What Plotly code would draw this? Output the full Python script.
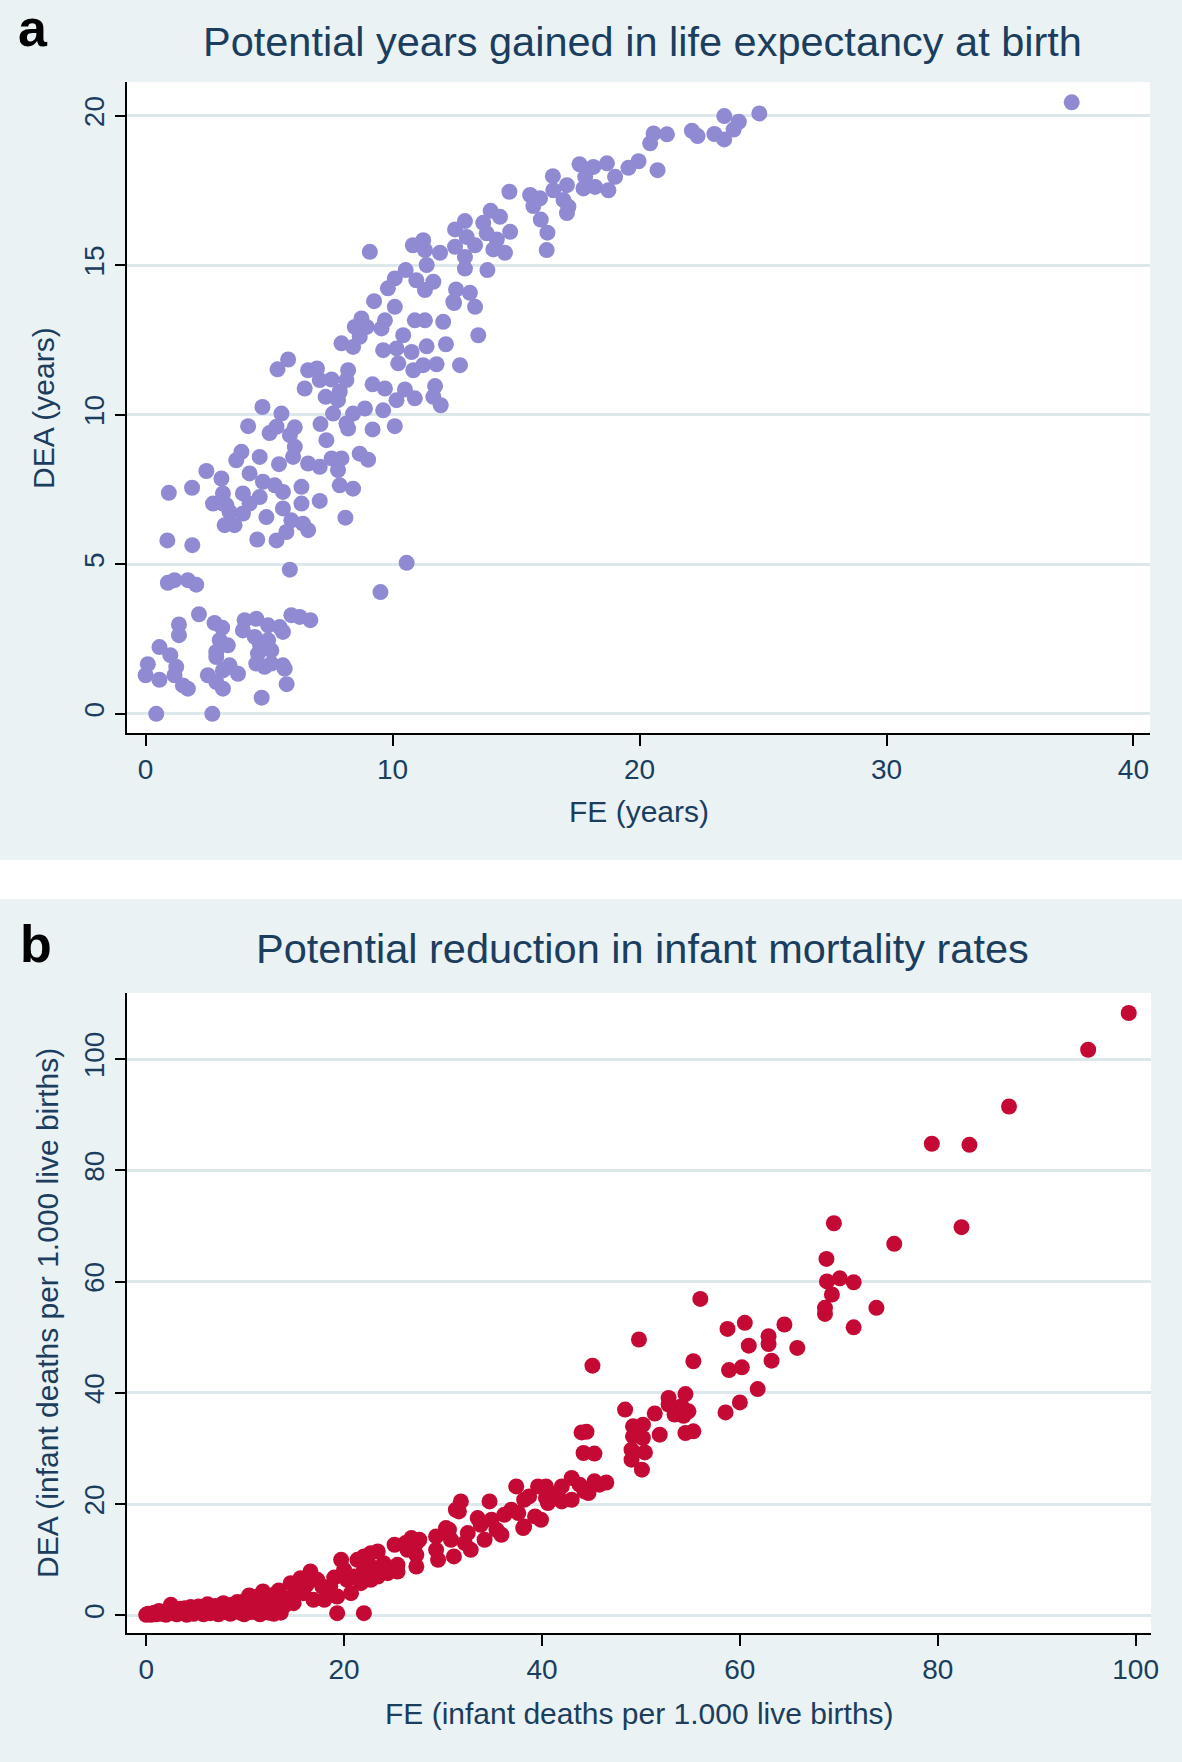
import plotly.graph_objects as go

# ---------------- Panel a data: FE (years) vs DEA (years) ----------------
fe_years = [
    0.43, 2.70, 4.70, 5.71, 0.09, 0.00, 0.56, 0.56, 1.00, 1.24, 1.17, 1.51, 1.71, 1.35, 1.35, 2.16,
    2.79, 3.10, 3.00, 3.33, 2.86, 2.86, 2.52, 2.86, 3.13, 3.40, 3.74, 3.13, 4.01, 4.48, 3.94, 4.42,
    4.96, 5.43, 5.56, 5.90, 6.24, 6.67, 5.09, 4.55, 4.48, 4.82, 5.09, 5.56, 5.63, 4.96, 4.62,
    0.90, 1.17, 1.71, 2.05, 5.84, 9.51, 10.57, 0.88, 1.89, 8.09, 4.52, 5.30, 5.70, 6.58, 3.20, 3.60,
    2.73, 3.27, 4.21, 4.89, 5.56, 6.31, 7.05, 5.90, 6.37, 0.94, 1.88,
    9.25, 10.09, 12.49, 13.34, 13.47, 12.05, 10.90, 9.69, 9.55, 8.74, 8.47, 8.95, 7.93, 8.40, 8.67,
    10.43, 9.62, 10.16, 10.77, 11.38, 12.16, 10.23, 10.84, 11.24, 11.78, 12.73, 9.19, 9.69, 10.50,
    10.90, 10.16, 9.62, 11.72, 11.65, 11.95, 10.09, 9.19, 8.88, 8.40, 8.13, 8.20, 7.08, 7.32, 7.59,
    7.79, 7.29, 7.86, 8.20, 8.13, 7.53, 7.05, 6.58, 6.94, 6.44, 5.77, 5.34, 4.73, 5.50, 4.15, 5.02,
    5.30, 6.04, 5.84, 6.04, 5.97, 6.58, 7.05, 7.53, 7.93, 7.79, 8.67, 9.01, 7.86, 8.40, 5.40, 4.62,
    3.88, 3.67, 2.46, 3.07, 4.21, 4.75, 5.23, 5.56, 6.31, 4.62, 3.94, 3.13, 3.13, 3.40, 3.94,
    24.85, 23.43, 24.02, 23.81, 23.03, 23.43, 22.12, 22.35, 20.57, 21.11, 20.43, 20.73, 19.96, 19.55,
    18.68, 19.01, 18.13, 17.57, 17.80, 17.73, 18.20, 18.74, 16.49, 17.06, 16.51, 16.92, 17.12, 17.06,
    14.73, 15.57, 15.97, 15.70, 16.00, 16.27, 16.24, 13.97, 14.35, 12.93, 12.53, 13.67, 14.76, 13.81,
    13.00, 14.22, 12.53, 11.92, 11.24, 11.31, 13.34, 14.08, 14.55, 12.93, 12.93, 13.84, 11.38, 11.65,
    11.31, 12.57, 13.13, 12.46, 11.31,
    9.08, 10.82, 10.53, 10.09, 9.81, 10.96,
    37.50,
]
dea_years = [
    0.00, 0.00, 0.54, 0.99, 1.66, 1.29, 1.14, 2.23, 1.96, 1.57, 1.29, 0.95, 0.84, 2.99, 2.63, 3.33,
    3.04, 2.88, 2.46, 2.29, 2.07, 1.90, 1.29, 1.06, 0.84, 1.62, 1.34, 1.45, 3.13, 3.18, 2.79, 2.57,
    2.96, 2.90, 2.74, 3.30, 3.24, 3.13, 2.12, 2.01, 1.68, 1.57, 1.68, 1.62, 1.51, 2.46, 2.35,
    4.38, 4.47, 4.47, 4.32, 4.82, 4.07, 5.05, 5.80, 5.64, 6.56, 5.83, 5.80, 6.08, 6.14, 6.31, 6.31,
    7.03, 6.98, 7.03, 6.58, 6.87, 7.03, 7.12, 6.47, 6.36, 7.39, 7.56,
    13.80, 13.61, 13.74, 13.61, 12.66, 13.11, 13.16, 13.16, 12.89, 13.22, 12.94, 12.94, 12.39, 12.27, 12.61,
    12.66, 12.16, 12.22, 12.10, 12.29, 12.36, 11.72, 11.49, 11.66, 11.69, 11.66, 11.02, 10.88, 10.85,
    10.55, 10.49, 10.15, 10.96, 10.60, 10.32, 9.62, 9.51, 10.21, 10.04, 9.71, 9.54, 9.69, 9.15, 10.04,
    10.49, 10.60, 10.77, 11.49, 11.16, 11.18, 11.16, 11.49, 11.55, 10.88, 11.85, 11.52, 10.26, 10.04, 9.62, 9.39,
    9.60, 9.58, 9.32, 8.93, 8.59, 8.37, 8.26, 8.54, 8.54, 8.15, 8.70, 8.50, 7.64, 7.53, 8.35, 8.59,
    8.76, 8.48, 8.12, 7.87, 8.04, 7.76, 7.64, 7.42, 7.59, 7.25, 7.37, 7.37, 7.03, 6.75, 6.70,
    20.08, 19.99, 19.80, 19.54, 19.39, 19.21, 19.50, 19.32, 19.41, 19.38, 19.08, 18.18, 18.48, 18.26,
    18.41, 17.96, 18.29, 18.38, 17.96, 17.57, 17.62, 17.51, 17.98, 17.68, 17.51, 17.18, 16.96, 16.75,
    17.46, 17.35, 17.24, 16.98, 16.53, 16.09, 15.51, 16.82, 16.62, 16.48, 16.20, 16.42, 16.12, 16.07,
    15.95, 15.86, 15.62, 15.42, 15.84, 15.51, 15.67, 15.53, 15.42, 15.28, 14.89, 14.84, 15.01, 14.45,
    14.17, 14.19, 14.08, 13.78, 13.16,
    15.45, 15.67, 14.84, 14.56, 14.23, 14.50,
    20.45,
]

# ---------------- Panel b data: FE vs DEA (infant deaths per 1.000 live births) ----------------
fe_imr = [
    0.0, 0.2, 0.5, 0.8, 1.0, 1.3, 1.5, 1.8, 2.0, 2.3, 2.5, 2.7, 3.0, 3.1, 3.4, 3.6, 3.9, 4.1, 4.3, 4.5,
    4.8, 5.0, 5.3, 5.5, 5.8, 6.0, 6.2, 6.5, 6.8, 7.0, 7.3, 7.5, 7.8, 8.0, 8.2, 8.5, 8.7, 9.0, 9.2, 9.5,
    9.7, 9.9, 10.1, 10.3, 10.4, 10.6, 10.8, 11.0, 11.2, 11.5, 11.6, 11.8, 12.0, 12.2, 12.4, 12.6, 12.9,
    13.0, 13.2, 13.4, 13.6, 13.8, 14.0, 14.3,
    14.6, 14.9, 15.2, 15.6, 15.9, 16.2, 16.6, 16.9, 17.3, 17.8, 18.0, 18.3, 18.6, 19.0, 19.3, 19.7,
    20.0, 20.3, 21.0,
    19.3, 22.0,
    21.35, 22.0, 22.7, 23.4, 22.0, 22.7, 24.0, 23.4, 22.7, 21.7, 20.7, 24.4, 25.4, 25.4, 26.2, 25.1,
    26.8, 27.6, 27.3, 27.3, 26.4, 29.3, 29.3, 29.5, 30.3, 30.8, 31.1, 31.8, 31.6, 32.2, 32.5, 32.8,
    33.8, 33.5, 34.2, 34.7, 34.9, 35.4, 35.9, 36.2, 36.9, 37.6, 38.1, 37.4, 38.7, 39.3, 39.9, 40.6,
    40.4, 41.6, 42.0, 43.0, 43.0, 43.8, 44.7, 45.3, 46.5, 44.2, 45.3, 49.05, 50.1,
    49.05, 45.8, 44.3, 42.0, 40.4, 39.6, 38.2, 38.2, 31.3, 30.6, 27.3,
    79.4, 83.2, 82.4, 75.6, 69.5, 68.75, 68.8, 70.1, 71.5, 69.3, 68.6, 68.6, 73.8, 71.5, 64.5, 62.9,
    62.9, 63.2, 65.8, 60.5, 58.75, 60.9, 56.0, 49.8, 45.1, 55.3, 58.9, 60.2, 61.8, 60.0, 58.55, 52.8,
    54.5, 52.8, 54.1, 54.8, 53.4, 54.3, 51.4, 48.4, 54.5, 55.3, 51.9, 49.2, 50.2, 49.2, 50.2, 50.4,
    44.0, 44.5,
    99.3, 95.2, 87.2,
]
dea_imr = [
    0.1, 0.3, 0.1, 0.5, 0.2, 0.8, 0.3, 0.6, 0.1, 1.0, 1.9, 0.4, 0.8, 0.2, 1.2, 0.5, 1.3, 0.1, 0.9, 1.5,
    0.3, 1.1, 1.6, 0.6, 0.2, 1.3, 2.0, 0.4, 1.0, 1.7, 0.2, 1.2, 2.2, 0.6, 1.5, 0.3, 1.9, 1.0, 2.4, 0.5,
    1.6, 0.2, 2.8, 1.2, 3.6, 0.6, 2.1, 3.3, 1.0, 0.2, 2.6, 4.3, 1.5, 3.2, 0.5, 2.2, 0.3,
    3.8, 1.2, 4.5, 0.5, 2.8, 1.8, 3.1,
    5.8, 2.2, 4.6, 6.7, 4.0, 5.5, 7.9, 2.8, 6.4, 5.2, 2.8, 4.2, 5.2, 6.8, 3.4, 10.0,
    8.2, 6.4, 7.0,
    0.4, 0.4,
    10.0, 10.6, 11.2, 11.5, 8.2, 8.8, 9.4, 7.0, 6.4, 5.8, 4.0, 7.6, 9.1, 7.9, 13.0, 12.7,
    13.9, 13.6, 10.9, 8.8, 11.8, 14.2, 11.8, 10.0, 15.7, 13.6, 10.6, 20.5, 18.7, 13.0, 14.8, 11.8,
    16.3, 17.5, 13.6, 20.5, 17.2, 15.4, 14.5, 18.1, 19.0, 18.4, 15.7, 23.2, 21.4, 17.8, 17.2, 20.2,
    23.2, 22.0, 20.5, 24.7, 20.8, 23.5, 22.0, 24.1, 23.9, 29.2, 29.1, 29.8, 26.2,
    28.0, 23.5, 22.3, 23.2, 21.1, 23.2, 16.0, 20.8, 19.0, 15.4, 13.0,
    84.8, 84.6, 69.8, 66.8, 70.5, 64.1, 60.05, 60.6, 59.9, 57.7, 55.3, 54.2, 55.3, 51.8, 52.3, 50.2,
    48.8, 45.8, 48.1, 52.6, 51.5, 48.5, 56.9, 49.6, 44.9, 45.7, 44.1, 44.6, 40.7, 38.3, 36.5, 39.1,
    39.8, 37.9, 37.6, 36.7, 36.1, 35.9, 36.3, 37.0, 32.8, 33.1, 32.5, 34.0, 34.3, 32.2, 31.9, 29.3,
    32.9, 33.0,
    108.3, 101.7, 91.5,
]

# ---------------- Text ----------------
title_a = "Potential years gained in life expectancy at birth"
title_b = "Potential reduction in infant mortality rates"
xtitle_a = "FE (years)"
ytitle_a = "DEA (years)"
xtitle_b = "FE (infant deaths per 1.000 live births)"
ytitle_b = "DEA (infant deaths per 1.000 live births)"
xticks_a = [0, 10, 20, 30, 40]
yticks_a = [0, 5, 10, 15, 20]
xticks_b = [0, 20, 40, 60, 80, 100]
yticks_b = [0, 20, 40, 60, 80, 100]

W, H = 1182, 1762
FONT = "Liberation Sans, Arial, Helvetica, sans-serif"
TXT = "#1B3D5E"
BG = "#EAF2F3"
GRID = "#DCE8EC"
LAV = "#8F8AD2"
RED = "#C40A34"


def px(x):
    return x / W


def py(y):
    return 1 - y / H


fig = go.Figure()
fig.add_trace(go.Scatter(x=fe_years, y=dea_years, mode="markers", xaxis="x", yaxis="y",
                         marker=dict(color=LAV, size=16, line=dict(width=0)), showlegend=False))
fig.add_trace(go.Scatter(x=fe_imr, y=dea_imr, mode="markers", xaxis="x2", yaxis="y2",
                         marker=dict(color=RED, size=16, line=dict(width=0)), showlegend=False))

common_x = dict(showline=True, linecolor="black", linewidth=1.5, ticks="outside", ticklen=11,
                tickwidth=1.5, tickcolor="black", showgrid=False, zeroline=False, automargin=False,
                tickfont=dict(family=FONT, size=28, color=TXT), mirror=False)
common_y = dict(showline=True, linecolor="black", linewidth=1.5, ticks="outside", ticklen=10,
                tickwidth=1.5, tickcolor="black", showgrid=True, gridcolor=GRID, gridwidth=2.5,
                zeroline=False, tickangle=-90, automargin=False,
                tickfont=dict(family=FONT, size=28, color=TXT), mirror=False)

PA = (127, 1150, 82, 733)     # left, right, top, bottom (px)
PB = (127, 1151, 993, 1633)

fig.update_layout(
    width=W, height=H,
    margin=dict(l=0, r=0, t=0, b=0, autoexpand=False),
    paper_bgcolor="white", plot_bgcolor="white",
    xaxis=dict(domain=[px(PA[0]), px(PA[1])], anchor="y", range=[-0.754, 40.67], tickvals=xticks_a, **common_x),
    yaxis=dict(domain=[py(PA[3]), py(PA[2])], anchor="x", range=[-0.642, 21.13], tickvals=yticks_a, **common_y),
    xaxis2=dict(domain=[px(PB[0]), px(PB[1])], anchor="y2", range=[-1.94, 101.55], tickvals=xticks_b, **common_x),
    yaxis2=dict(domain=[py(PB[3]), py(PB[2])], anchor="x2", range=[-3.16, 111.9], tickvals=yticks_b, **common_y),
    shapes=[
        dict(type="rect", xref="paper", yref="paper", x0=0, x1=1, y0=py(860), y1=1,
             fillcolor=BG, line=dict(width=0), layer="below"),
        dict(type="rect", xref="paper", yref="paper", x0=0, x1=1, y0=0, y1=py(899),
             fillcolor=BG, line=dict(width=0), layer="below"),
        dict(type="rect", xref="paper", yref="paper", x0=px(PA[0]), x1=px(PA[1]), y0=py(PA[3]), y1=py(PA[2]),
             fillcolor="white", line=dict(width=0), layer="below"),
        dict(type="rect", xref="paper", yref="paper", x0=px(PB[0]), x1=px(PB[1]), y0=py(PB[3]), y1=py(PB[2]),
             fillcolor="white", line=dict(width=0), layer="below"),
    ],
)

ann = []


def add_text(text, x, y, size, color=TXT, angle=0, bold=False):
    ann.append(dict(text=("<b>%s</b>" % text) if bold else text, x=px(x), y=py(y), xref="paper", yref="paper",
                    xanchor="center", yanchor="middle", showarrow=False, textangle=angle,
                    font=dict(family=FONT, size=size, color=color)))


add_text("a", 33, 28, 52, color="black", bold=True)
add_text("b", 36, 944, 52, color="black", bold=True)
add_text(title_a, 642, 41, 41.5)
add_text(title_b, 642, 948, 41.5)
add_text(xtitle_a, 639, 812, 30)
add_text(ytitle_a, 43, 408, 30, angle=-90)
add_text(xtitle_b, 639, 1713, 30)
add_text(ytitle_b, 47, 1313, 30, angle=-90)
fig.update_layout(annotations=ann)

fig.write_html("out.html",
               config={"displayModeBar": False},
               post_script="document.body.style.margin='0px';document.body.style.overflow='hidden';")
